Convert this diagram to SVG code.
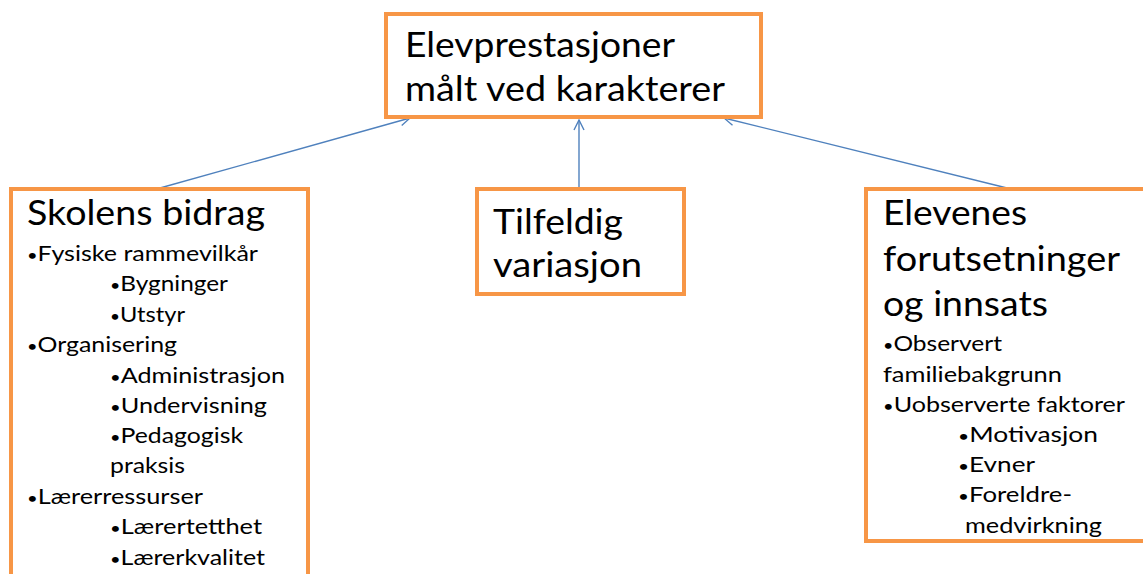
<svg xmlns="http://www.w3.org/2000/svg" width="1143" height="574" viewBox="0 0 1143 574">
  <defs>
    <marker id="open-arrow" viewBox="0 0 12 12" refX="11" refY="6" markerWidth="12" markerHeight="12" markerUnits="userSpaceOnUse" orient="auto">
      <path d="M1,1 L11,6 L1,11" fill="none" stroke="#4F81BD" stroke-width="1.4"/>
    </marker>
    <style>
      .box { fill: #FFFFFF; stroke: #F79646; stroke-width: 4; }
      .link { fill: none; stroke: #4F81BD; stroke-width: 1.4; marker-end: url(#open-arrow); }
      .big { font-family: Lato, "Open Sans", "Liberation Sans", sans-serif; font-size: 34px; fill: #000000; }
      .small { font-family: Lato, "Open Sans", "Liberation Sans", sans-serif; font-size: 20.5px; fill: #000000; }
      .dot { font-size: 15px; }
    </style>
  </defs>
  <rect width="1143" height="574" fill="#FFFFFF"/>

  <!-- connectors -->
  <g id="connectors">
    <line class="link" x1="160" y1="188" x2="410" y2="118"/>
    <line class="link" x1="579" y1="188" x2="579" y2="120"/>
    <line class="link" x1="1007" y1="188" x2="724" y2="118"/>
  </g>

  <!-- outcome -->
  <g id="elevprestasjoner">
    <rect class="box" x="386" y="14" width="375" height="103"/>
    <text class="big" x="405" y="57" textLength="270" lengthAdjust="spacingAndGlyphs">Elevprestasjoner</text>
    <text class="big" x="405" y="101" textLength="320" lengthAdjust="spacingAndGlyphs">målt ved karakterer</text>
  </g>

  <!-- school contribution -->
  <g id="skolens-bidrag">
    <rect class="box" x="11" y="189" width="297" height="400"/>
    <text class="big" x="27" y="225" textLength="238" lengthAdjust="spacingAndGlyphs">Skolens bidrag</text>
    <text class="small" x="27" y="261" textLength="231" lengthAdjust="spacingAndGlyphs"><tspan class="dot">•</tspan>Fysiske rammevilkår</text>
    <text class="small" x="110" y="291" textLength="118" lengthAdjust="spacingAndGlyphs"><tspan class="dot">•</tspan>Bygninger</text>
    <text class="small" x="110" y="322" textLength="75" lengthAdjust="spacingAndGlyphs"><tspan class="dot">•</tspan>Utstyr</text>
    <text class="small" x="27" y="352" textLength="150" lengthAdjust="spacingAndGlyphs"><tspan class="dot">•</tspan>Organisering</text>
    <text class="small" x="110" y="383" textLength="175" lengthAdjust="spacingAndGlyphs"><tspan class="dot">•</tspan>Administrasjon</text>
    <text class="small" x="110" y="413" textLength="157" lengthAdjust="spacingAndGlyphs"><tspan class="dot">•</tspan>Undervisning</text>
    <text class="small" x="110" y="443" textLength="133" lengthAdjust="spacingAndGlyphs"><tspan class="dot">•</tspan>Pedagogisk</text>
    <text class="small" x="110" y="473" textLength="75" lengthAdjust="spacingAndGlyphs">praksis</text>
    <text class="small" x="27" y="504" textLength="176" lengthAdjust="spacingAndGlyphs"><tspan class="dot">•</tspan>Lærerressurser</text>
    <text class="small" x="110" y="534" textLength="152" lengthAdjust="spacingAndGlyphs"><tspan class="dot">•</tspan>Lærertetthet</text>
    <text class="small" x="110" y="565" textLength="155" lengthAdjust="spacingAndGlyphs"><tspan class="dot">•</tspan>Lærerkvalitet</text>
  </g>

  <!-- random variation -->
  <g id="tilfeldig-variasjon">
    <rect class="box" x="477" y="189" width="207" height="105"/>
    <text class="big" x="493" y="234" textLength="130" lengthAdjust="spacingAndGlyphs">Tilfeldig</text>
    <text class="big" x="493" y="277" textLength="149" lengthAdjust="spacingAndGlyphs">variasjon</text>
  </g>

  <!-- student prerequisites and effort -->
  <g id="elevenes-forutsetninger">
    <rect class="box" x="866" y="189" width="300" height="352"/>
    <text class="big" x="883" y="225" textLength="144" lengthAdjust="spacingAndGlyphs">Elevenes</text>
    <text class="big" x="883" y="271" textLength="237" lengthAdjust="spacingAndGlyphs">forutsetninger</text>
    <text class="big" x="883" y="316" textLength="165" lengthAdjust="spacingAndGlyphs">og innsats</text>
    <text class="small" x="883" y="351" textLength="119" lengthAdjust="spacingAndGlyphs"><tspan class="dot">•</tspan>Observert</text>
    <text class="small" x="883" y="382" textLength="179" lengthAdjust="spacingAndGlyphs">familiebakgrunn</text>
    <text class="small" x="883" y="412" textLength="242" lengthAdjust="spacingAndGlyphs"><tspan class="dot">•</tspan>Uobserverte faktorer</text>
    <text class="small" x="958" y="442" textLength="140" lengthAdjust="spacingAndGlyphs"><tspan class="dot">•</tspan>Motivasjon</text>
    <text class="small" x="958" y="472" textLength="77" lengthAdjust="spacingAndGlyphs"><tspan class="dot">•</tspan>Evner</text>
    <text class="small" x="958" y="502" textLength="114" lengthAdjust="spacingAndGlyphs"><tspan class="dot">•</tspan>Foreldre-</text>
    <text class="small" x="965" y="533" textLength="137" lengthAdjust="spacingAndGlyphs">medvirkning</text>
  </g>
</svg>
